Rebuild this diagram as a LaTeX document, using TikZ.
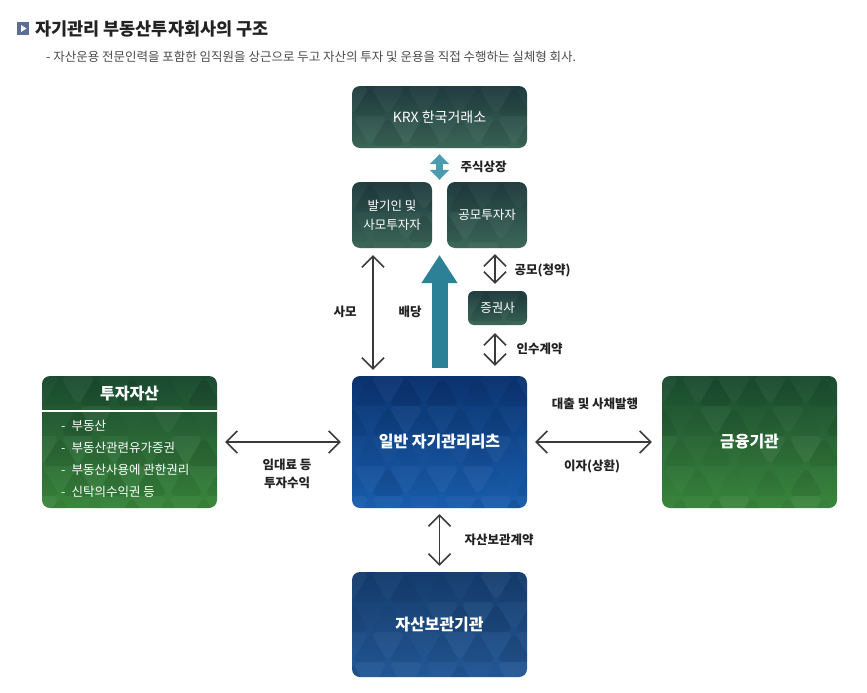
\documentclass[tikz,border=0pt]{standalone}
\usepackage{fontspec}
\setmainfont{Noto Sans CJK KR}
\usepackage{tikz}
\usetikzlibrary{arrows.meta}
\usetikzlibrary{positioning}
\usepackage{xcolor}

\definecolor{krxtop}{HTML}{1F3A3E}
\definecolor{krxbot}{HTML}{3C6858}
\definecolor{greentop}{HTML}{1A4A30}
\definecolor{greenbot}{HTML}{3A863C}
\definecolor{reittop}{HTML}{0A326E}
\definecolor{reitbot}{HTML}{1A5EAE}
\definecolor{custtop}{HTML}{143C6C}
\definecolor{custbot}{HTML}{245896}
\definecolor{tealarrow}{HTML}{2C8196}
\definecolor{listarrow}{HTML}{4C9CB0}
\definecolor{linegray}{HTML}{3A3A3A}
\definecolor{textgray}{HTML}{222222}
\definecolor{subgray}{HTML}{4A4A4A}
\definecolor{iconblue}{HTML}{5B6F96}

\begin{document}
\begin{tikzpicture}[x=1pt,y=-1pt,
  mosaic/.style={path picture={
    \coordinate (pp) at (path picture bounding box.north west);
    \foreach \r in {0,...,4}{
      \foreach \k in {-1,...,5}{
        \pgfmathsetmacro\sx{\k*36+mod(\r,2)*18}
        \pgfmathsetmacro\sy{\r*30}
        \pgfmathsetmacro\oa{0.09*rnd}
        \pgfmathsetmacro\ob{0.045*rnd}
        \fill[black,opacity=\oa] ([shift={(\sx,\sy+30)}]pp) -- ([shift={(\sx+18,\sy)}]pp) -- ([shift={(\sx+36,\sy+30)}]pp) -- cycle;
        \fill[white,opacity=\ob] ([shift={(\sx+18,\sy)}]pp) -- ([shift={(\sx+36,\sy+30)}]pp) -- ([shift={(\sx+54,\sy)}]pp) -- cycle;
      }}}},
  box/.style={rounded corners=8pt, text=white, align=center, inner sep=0pt, mosaic},
  krxbox/.style={box, top color=krxtop, bottom color=krxbot},
  greenbox/.style={box, top color=greentop, bottom color=greenbot},
  reitbox/.style={box, top color=reittop, bottom color=reitbot},
  custbox/.style={box, top color=custtop, bottom color=custbot},
  bigtext/.style={font=\fontsize{16}{19}\selectfont\bfseries},
  smalltext/.style={font=\fontsize{12.5}{19}\selectfont},
  lbl/.style={font=\fontsize{12.5}{18}\selectfont\bfseries, text=textgray, align=center},
  dbl/.style={draw=linegray, line width=1.6pt,
    {Straight Barb[length=11pt,width=22pt]}-{Straight Barb[length=11pt,width=22pt]}}]
\pgfmathsetseed{11}
\useasboundingbox (0,0) rectangle (867,693);

% title
\fill[iconblue] (17,22) rectangle (29,35);
\fill[white] (21,25) -- (26.5,28.5) -- (21,32) -- cycle;
\node[anchor=west, font=\fontsize{17.5}{19}\selectfont\bfseries, text=textgray, inner sep=0pt] (title) at (35,28.5) {자기관리 부동산투자회사의 구조};
\node[anchor=west, font=\fontsize{12.5}{14}\selectfont, text=subgray, inner sep=0pt] (subtitle) at (46,57) {- 자산운용 전문인력을 포함한 임직원을 상근으로 두고 자산의 투자 및 운용을 직접 수행하는 실체형 회사.};

% boxes
\node[krxbox, font=\fontsize{14}{16}\selectfont, minimum width=175pt, minimum height=62pt] (krx) at (439.5,117) {KRX 한국거래소};
\node[krxbox, smalltext, minimum width=80pt, minimum height=66pt] (sponsor) at (392,215) {발기인 및\\사모투자자};
\node[krxbox, smalltext, minimum width=80pt, minimum height=66pt] (public) at (487,215) {공모투자자};
\node[krxbox, smalltext, rounded corners=6pt, minimum width=59pt, minimum height=34pt] (broker) at (497.5,308) {증권사};
\node[reitbox, bigtext, minimum width=175pt, minimum height=132pt] (reit) at (439.5,442) {일반 자기관리리츠};
\node[greenbox, minimum width=175pt, minimum height=132pt] (assets) at (129.5,442) {};
\node[greenbox, bigtext, minimum width=175pt, minimum height=132pt] (bank) at (749.5,442) {금융기관};
\node[custbox, bigtext, minimum width=175pt, minimum height=105pt] (custody) at (439.5,624.5) {자산보관기관};

% asset list
\node[font=\fontsize{16}{18}\selectfont\bfseries, text=white] (assettitle) at (129.5,394) {투자자산};
\draw[white, line width=1.2pt] (assets.west |- 0,411) -- (assets.east |- 0,411);
\foreach \y/\item in {426/부동산, 448/부동산관련유가증권, 470/부동산사용에 관한권리, 492/신탁의수익권 등}
  \node[anchor=west, font=\fontsize{12.5}{14}\selectfont, text=white, inner sep=0pt] at (61,\y) {-\hspace{6pt}\item};

% arrows
\coordinate (gap) at (439.5,248);
\draw[listarrow, line width=7pt, shorten <=6pt, shorten >=2pt,
  {Triangle[length=10pt,width=19pt]}-{Triangle[length=10pt,width=19pt]}] (krx.south) -- (sponsor.north -| krx.south);
\draw[tealarrow, line width=16pt, shorten <=8pt, shorten >=7pt,
  -{Triangle[length=28pt,width=34pt]}] (reit.north) -- (gap);
\draw[dbl, shorten <=7pt, shorten >=6pt] ([xshift=-19pt]sponsor.south) -- ([xshift=-19pt]sponsor.south |- reit.north);
\draw[dbl, shorten <=7pt, shorten >=6pt] (broker.north -| 495,0) -- (public.south -| 495,0);
\draw[dbl, shorten <=8pt, shorten >=10pt] (broker.south -| 495,0) -- (reit.north -| 495,0);
\draw[dbl, shorten <=8pt, shorten >=11pt] (assets.east) -- (reit.west);
\draw[dbl, shorten <=8pt, shorten >=10pt] (reit.east) -- (bank.west);
\draw[dbl, shorten <=6pt, shorten >=6pt] (reit.south) -- (custody.north);

% labels
\node[lbl, anchor=west] (listing) at (457,167) {주식상장};
\node[lbl] (private) at (345,312) {사모};
\node[lbl] (dividend) at (410,312) {배당};
\node[lbl, anchor=west] (offering) at (511,270) {공모(청약)};
\node[lbl, anchor=west] (underwrite) at (513,349) {인수계약};
\node[lbl] (rent) at (287,474) {임대료 등\\투자수익};
\node[lbl] (loan) at (595,404) {대출 및 사채발행};
\node[lbl] (interest) at (592,466) {이자(상환)};
\node[lbl, anchor=west] (custcontract) at (461,540) {자산보관계약};
\end{tikzpicture}
\end{document}
